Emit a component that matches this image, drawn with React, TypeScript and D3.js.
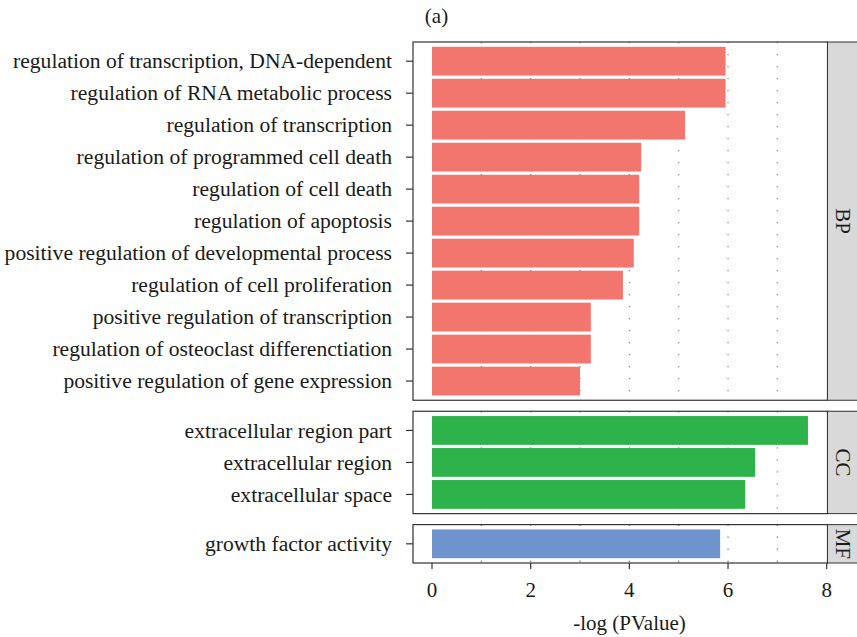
import React from "react";
import * as d3 from "d3";

const bpTerms = [
  "regulation of transcription, DNA-dependent",
  "regulation of RNA metabolic process",
  "regulation of transcription",
  "regulation of programmed cell death",
  "regulation of cell death",
  "regulation of apoptosis",
  "positive regulation of developmental process",
  "regulation of cell proliferation",
  "positive regulation of transcription",
  "regulation of osteoclast differenctiation",
  "positive regulation of gene expression",
];
const bpValues = [5.95, 5.95, 5.13, 4.24, 4.2, 4.2, 4.09, 3.87, 3.22, 3.22, 3.0];

const ccTerms = ["extracellular region part", "extracellular region", "extracellular space"];
const ccValues = [7.62, 6.55, 6.35];

const mfTerms = ["growth factor activity"];
const mfValues = [5.84];

const panelNames = ["BP", "CC", "MF"];
const xTicks = [0, 2, 4, 6, 8];
const gridValues = [1, 2, 3, 4, 5, 6, 7];
const xLabel = "-log (PValue)";
const title = "(a)";

const colors: Record<string, string> = { BP: "#f2756e", CC: "#2eb34a", MF: "#6f94cd" };

export default function App() {
  const W = 857, H = 637;
  const FONT = "'Liberation Serif', 'Times New Roman', serif";
  const fs = 21;
  const labelFs = 21.6;
  const x = d3.scaleLinear().domain([0, 8]).range([432, 826.7]);
  const panelLeft = x(-0.385);
  const panelRight = 827.5;
  const stripRight = 862;
  const top = 42, bottom = 563, gap = 11;

  const groups = [
    { name: panelNames[0], terms: bpTerms, values: bpValues },
    { name: panelNames[1], terms: ccTerms, values: ccValues },
    { name: panelNames[2], terms: mfTerms, values: mfValues },
  ];
  const units = groups.map((g) => g.terms.length + 0.2);
  const totalUnits = d3.sum(units);
  const unit = (bottom - top - gap * (groups.length - 1)) / totalUnits;

  let cursor = top;
  const panels = groups.map((g, i) => {
    const y0 = cursor;
    const h = units[i] * unit;
    cursor += h + gap;
    const y = d3
      .scaleBand<string>()
      .domain(g.terms)
      .range([y0, y0 + h])
      .paddingInner(0.1)
      .paddingOuter(0.15);
    return { ...g, y0, y1: y0 + h, y };
  });

  return (
    <svg width={W} height={H} style={{ position: "absolute", left: 0, top: 0 }} fontFamily={FONT}>
      <rect x={0} y={0} width={W} height={H} fill="#fff" />
      <text x={436.5} y={23} fontSize={fs} textAnchor="middle" fill="#1a1a1a">
        {title}
      </text>
      {panels.map((p) => (
        <g key={p.name}>
          {gridValues.map((v) => (
            <line
              key={v}
              x1={x(v)}
              x2={x(v)}
              y1={p.y0}
              y2={p.y1}
              stroke="#8a8a8a"
              strokeWidth={1.3}
              strokeDasharray="1.3 10.7"
            />
          ))}
          {p.terms.map((t, i) => (
            <rect
              key={t}
              x={x(0)}
              y={p.y(t)}
              width={x(p.values[i]) - x(0)}
              height={p.y.bandwidth()}
              fill={colors[p.name]}
            />
          ))}
          <rect
            x={panelLeft}
            y={p.y0}
            width={panelRight - panelLeft}
            height={p.y1 - p.y0}
            fill="none"
            stroke="#333"
            strokeWidth={1.2}
          />
          <rect
            x={panelRight}
            y={p.y0}
            width={stripRight - panelRight}
            height={p.y1 - p.y0}
            fill="#d9d9d9"
            stroke="#333"
            strokeWidth={1}
          />
          <text
            transform={`translate(${843},${(p.y0 + p.y1) / 2}) rotate(90)`}
            textAnchor="middle"
            dominantBaseline="central"
            fontSize={fs}
            fill="#1a1a1a"
          >
            {p.name}
          </text>
          {p.terms.map((t) => {
            const cy = (p.y(t) as number) + p.y.bandwidth() / 2;
            return (
              <g key={t}>
                <line x1={panelLeft - 7} x2={panelLeft} y1={cy} y2={cy} stroke="#333" strokeWidth={1.2} />
                <text x={392} y={cy} dy="0.33em" textAnchor="end" fontSize={labelFs} fill="#1a1a1a">
                  {t}
                </text>
              </g>
            );
          })}
        </g>
      ))}
      {xTicks.map((v) => (
        <g key={v}>
          <line x1={x(v)} x2={x(v)} y1={bottom} y2={bottom + 6} stroke="#333" strokeWidth={1.2} />
          <text x={x(v)} y={597} textAnchor="middle" fontSize={fs} fill="#1a1a1a">
            {v}
          </text>
        </g>
      ))}
      <text x={629.5} y={630} textAnchor="middle" fontSize={fs} fill="#1a1a1a">
        {xLabel}
      </text>
    </svg>
  );
}
